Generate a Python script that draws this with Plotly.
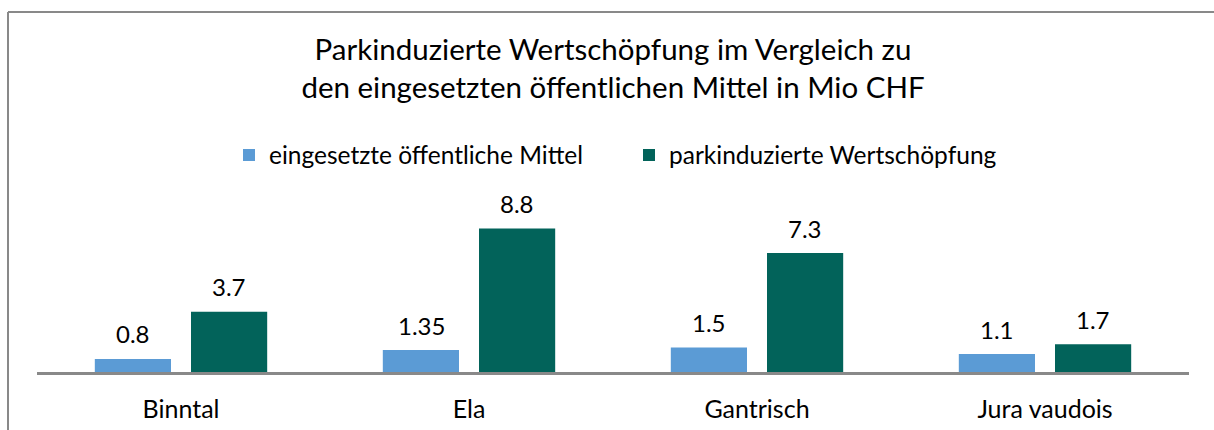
import plotly.graph_objects as go

categories = ["Binntal", "Ela", "Gantrisch", "Jura vaudois"]
mittel = [0.8, 1.35, 1.5, 1.1]
wertschoepfung = [3.7, 8.8, 7.3, 1.7]
series_names = ["eingesetzte öffentliche Mittel", "parkinduzierte Wertschöpfung"]
colors = ["#5B9BD5", "#02635A"]
title_text = "Parkinduzierte Wertschöpfung im Vergleich zu<br>den eingesetzten öffentlichen Mittel in Mio CHF"

FONT = "Lato, Open Sans, sans-serif"

fig = go.Figure()
for name, vals, col in zip(series_names, [mittel, wertschoepfung], colors):
    fig.add_trace(go.Bar(x=categories, y=vals, name=name, marker=dict(color=col, line=dict(width=0))))

# value labels above bars
for vals, shift in [(mittel, -48), (wertschoepfung, 48)]:
    for c, v in zip(categories, vals):
        fig.add_annotation(x=c, y=v, text=f"{v:g}", showarrow=False, xshift=shift,
                           yshift=25, font=dict(size=24, color="#000000", family=FONT))

W, H = 1214, 430
ml, mr, mt, mb = 37, 25, 209, 58
pw = W - ml - mr
ph = H - mt - mb

fig.update_layout(
    template="none",
    width=W, height=H,
    margin=dict(l=ml, r=mr, t=mt, b=mb, autoexpand=False),
    paper_bgcolor="white", plot_bgcolor="white",
    barmode="group", bargap=0.332, bargroupgap=0.208,
    title=dict(text=title_text, x=0.5, xref="paper", xanchor="center",
               y=(H - 60) / H, yanchor="middle",
               font=dict(size=29.5, color="#000000", family=FONT)),
    legend=dict(orientation="h", x=0.5 + 16 / pw, xanchor="center", y=(H - mb - 155) / ph, yanchor="middle",
                font=dict(size=24.5, color="#000000", family=FONT),
                traceorder="normal", entrywidth=355, entrywidthmode="pixels"),
    showlegend=True,
    font=dict(family=FONT),
)
fig.update_xaxes(showline=True, linecolor="#898989", linewidth=3, showgrid=False,
                 ticks="", tickfont=dict(size=25, color="#000000", family=FONT),
                 ticklabelstandoff=13, automargin=False, fixedrange=True)
fig.update_yaxes(range=[0, 10], visible=False, showgrid=False, zeroline=False, automargin=False)

# chart frame (left and top borders only)
frame_style = dict(color="#898989", width=2)
fig.add_shape(type="line", xref="paper", yref="paper",
              x0=(8 - ml) / pw, x1=(W - ml) / pw, y0=(H - mb - 12) / ph, y1=(H - mb - 12) / ph,
              line=frame_style)
fig.add_shape(type="line", xref="paper", yref="paper",
              x0=(8 - ml) / pw, x1=(8 - ml) / pw, y0=(H - mb - 12) / ph, y1=-mb / ph,
              line=frame_style)

# remove the default page margin so the figure fills the window exactly
fig.write_html("out.html", config={"displayModeBar": False},
               post_script="document.body.style.margin='0';document.body.style.overflow='hidden';")
